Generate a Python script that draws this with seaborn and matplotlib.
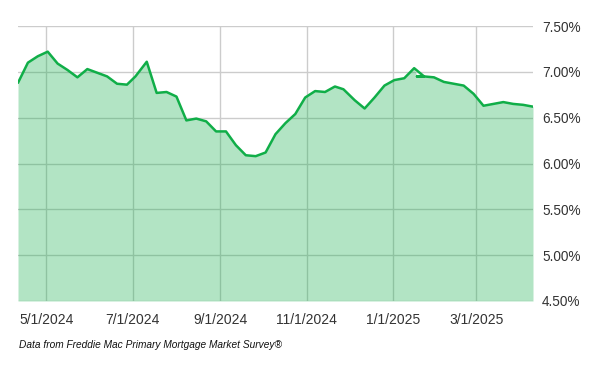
import matplotlib
matplotlib.use("Agg")
import matplotlib.pyplot as plt
import matplotlib.dates as mdates
from matplotlib.ticker import FixedLocator, FuncFormatter
import seaborn as sns
import pandas as pd
import numpy as np

dates = ["2024-04-11", "2024-04-18", "2024-04-25", "2024-05-02", "2024-05-09", "2024-05-16",
         "2024-05-23", "2024-05-30", "2024-06-06", "2024-06-13", "2024-06-20", "2024-06-27",
         "2024-07-03", "2024-07-11", "2024-07-18", "2024-07-25", "2024-08-01", "2024-08-08",
         "2024-08-15", "2024-08-22", "2024-08-29", "2024-09-05", "2024-09-12", "2024-09-19",
         "2024-09-26", "2024-10-03", "2024-10-10", "2024-10-17", "2024-10-24", "2024-10-31",
         "2024-11-07", "2024-11-14", "2024-11-21", "2024-11-27", "2024-12-05", "2024-12-12",
         "2024-12-19", "2024-12-26", "2025-01-02", "2025-01-09", "2025-01-16", "2025-01-23",
         "2025-01-18", "2025-01-23", "2025-01-30", "2025-02-06", "2025-02-13", "2025-02-20",
         "2025-02-27", "2025-03-06", "2025-03-13", "2025-03-20", "2025-03-27", "2025-04-03",
         "2025-04-10"]
rates = [6.88, 7.10, 7.17, 7.22, 7.09, 7.02,
         6.94, 7.03, 6.99, 6.95, 6.87, 6.86,
         6.95, 7.11, 6.77, 6.78, 6.73, 6.47,
         6.49, 6.46, 6.35, 6.35, 6.20, 6.09,
         6.08, 6.12, 6.32, 6.44, 6.54, 6.72,
         6.79, 6.78, 6.84, 6.81, 6.69, 6.60,
         6.72, 6.85, 6.91, 6.93, 7.04, 6.95,
         6.95, 6.95, 6.94, 6.89, 6.87, 6.85,
         6.76, 6.63, 6.65, 6.67, 6.65, 6.64,
         6.62]
y_ticks = [4.5, 5.0, 5.5, 6.0, 6.5, 7.0, 7.5]
x_ticks = ["2024-05-01", "2024-07-01", "2024-09-01", "2024-11-01", "2025-01-01", "2025-03-01"]
note = "Data from Freddie Mac Primary Mortgage Market Survey\u00ae"

df = pd.DataFrame({"date": pd.to_datetime(dates), "rate": rates})

sns.set_theme(style="white")
plt.rcParams["font.family"] = ["Liberation Sans", "DejaVu Sans"]

GREEN = "#10AE48"
fig = plt.figure(figsize=(6.0, 3.71), dpi=100)
ax = fig.add_axes([18 / 600, 70 / 371, 515 / 600, 275 / 371])

# fill uses chronologically ordered (deduplicated) points
fill_df = df.drop_duplicates("date", keep="first").sort_values("date")
ax.fill_between(fill_df["date"], fill_df["rate"], 4.5, color=GREEN, alpha=0.32, lw=0, zorder=2)
sns.lineplot(data=df, x="date", y="rate", sort=False, estimator=None, color=GREEN,
             lw=1.8, ax=ax, zorder=3)

ax.set_xlim(df["date"].min(), df["date"].max())
ax.set_ylim(4.5, 7.5)
ax.yaxis.tick_right()
ax.yaxis.set_major_locator(FixedLocator(y_ticks))
ax.yaxis.set_major_formatter(FuncFormatter(lambda v, p: f"{v:.2f}%"))
xt = pd.to_datetime(x_ticks)
ax.set_xticks(mdates.date2num(xt))
ax.set_xticklabels([f"{d.month}/{d.day}/{d.year}" for d in xt])
ax.grid(True, color="#cccccc", lw=1, zorder=1)
ax.set_axisbelow(True)
for s in ax.spines.values():
    s.set_visible(False)
ax.tick_params(axis="y", length=0, pad=6.5, labelsize=9.8, labelcolor="#333333")
ax.tick_params(axis="x", length=0, pad=8.5, labelsize=10, labelcolor="#333333")
ax.set_xlabel("")
ax.set_ylabel("")
for lbl in ax.get_yticklabels():
    lbl.set_horizontalalignment("left")

fig.text(19 / 600, 1 - 345 / 371, note, fontsize=7.3, style="italic", color="#111111",
         ha="left", va="center")

fig.savefig("out.png", dpi=100)
